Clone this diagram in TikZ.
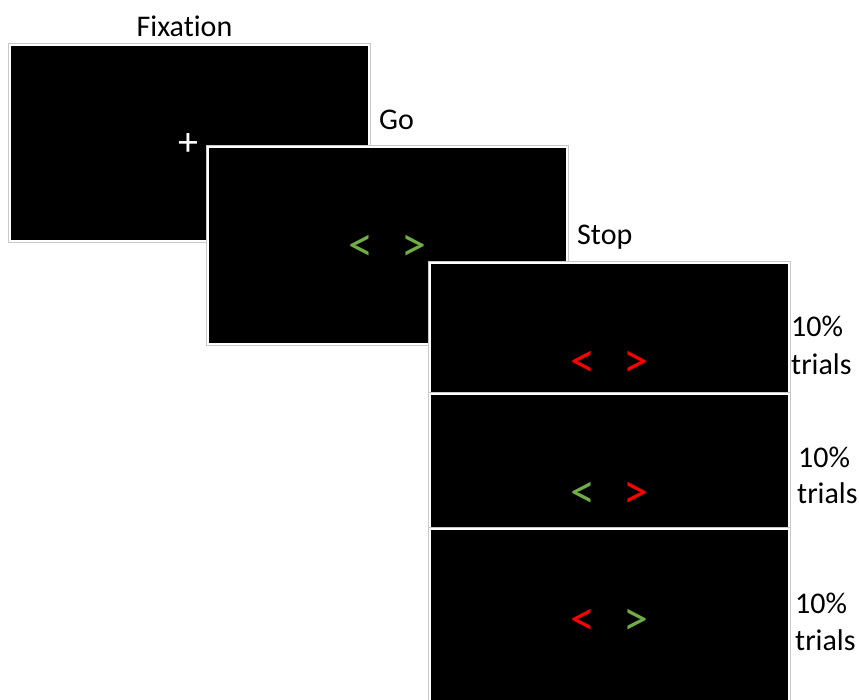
\documentclass[tikz,border=0pt]{standalone}
\usepackage{fontspec}
\setmainfont[Ligatures=NoCommon]{Carlito}
\definecolor{cuegreen}{HTML}{70AD47}
\definecolor{cuered}{HTML}{FF0000}
\definecolor{rim}{HTML}{C8C8C8}
\tikzset{
  screen/.style={rectangle, anchor=north west, inner sep=0pt, outer sep=0pt,
    fill=black, draw=white, line width=2.5pt,
    preaction={draw=rim, line width=4.5pt}},
  label/.style={font=\fontsize{30}{34}\selectfont, inner sep=0pt},
  cue/.style={font=\fontsize{50}{54}\selectfont, inner sep=0pt, anchor=center},
}
\begin{document}
\begin{tikzpicture}[x=1pt,y=-1pt]
\useasboundingbox (0,0) rectangle (859,700);

% stimulus screens, later ones stacked over earlier ones
\node[screen, minimum width=359pt, minimum height=196pt] (fix) at (10,45) {};
\node[screen, minimum width=359pt, minimum height=197pt] (go) at (208,147) {};
\node[screen, minimum width=359pt, minimum height=131pt] (stopA) at (430,263) {};
\node[screen, minimum width=359pt, minimum height=135pt] (stopB) at (430,394) {};
\node[screen, minimum width=359pt, minimum height=175pt] (stopC) at (430,529) {};

% phase titles
\node[label, anchor=base] (tfix) at (184.5,37) {Fixation};
\node[label, anchor=base west] (tgo) at (379,130) {Go};
\node[label, anchor=base west] (tstop) at (577,245) {Stop};

% fixation cross
\node[cue, font=\fontsize{40}{44}\selectfont, text=white] (cross) at (188,145) {+};

% go cues
\node[cue, text=cuegreen] (goL) at (360.5,248) {<};
\node[cue, text=cuegreen] (goR) at (414,248) {>};

% stop cues
\node[cue, text=cuered] (aL) at (582.5,364) {<};
\node[cue, text=cuered] (aR) at (635.5,364) {>};
\node[cue, text=cuegreen] (bL) at (582.5,495.5) {<};
\node[cue, text=cuered] (bR) at (635.5,495.5) {>};
\node[cue, text=cuered] (cL) at (582.5,622) {<};
\node[cue, text=cuegreen] (cR) at (635.5,622) {>};

% trial proportions
\node[label, anchor=base west] (pA) at (791,337) {10\%};
\node[label, anchor=base west] (rA) at (791,374) {trials};
\node[label, anchor=base west] (pB) at (798,467) {10\%};
\node[label, anchor=base west] (rB) at (797,503) {trials};
\node[label, anchor=base west] (pC) at (795,613) {10\%};
\node[label, anchor=base west] (rC) at (795,650) {trials};
\end{tikzpicture}
\end{document}
